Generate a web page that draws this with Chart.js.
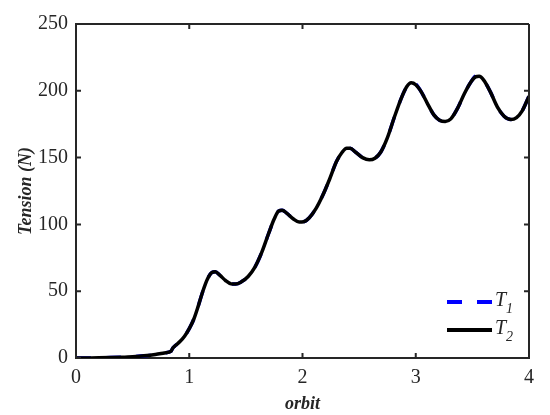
<!DOCTYPE html>
<html>
<head>
<meta charset="utf-8">
<script src="https://cdn.jsdelivr.net/npm/chart.js@4/dist/chart.umd.min.js"></script>
<style>
body { margin: 0; background: #fff; }
</style>
</head>
<body>
<canvas id="myChart" width="550" height="415"></canvas>
<script>
// orbit values and tension readings (N)
var orbit = [0, 0.1, 0.2, 0.3, 0.4, 0.5, 0.6, 0.7, 0.78, 0.84, 0.855, 0.88, 0.92, 0.96, 1.0, 1.04, 1.08, 1.12, 1.16, 1.2,
  1.23, 1.27, 1.32, 1.37, 1.41, 1.46, 1.52, 1.58, 1.64, 1.7, 1.75, 1.79, 1.82, 1.86, 1.92, 1.97, 2.01, 2.06, 2.12, 2.18,
  2.24, 2.3, 2.35, 2.39, 2.42, 2.47, 2.53, 2.59, 2.64, 2.69, 2.75, 2.81, 2.87, 2.92, 2.96, 3.0, 3.05, 3.1, 3.16, 3.21,
  3.26, 3.31, 3.37, 3.43, 3.49, 3.53, 3.56, 3.6, 3.66, 3.72, 3.78, 3.84, 3.89, 3.94, 4.0];
var t1 = [0, 0.05, 0.1, 0.3, 0.6, 1.0, 1.6, 2.6, 3.8, 5.2, 7.5, 9.5, 12.5, 16.5, 22, 29, 39, 50, 59, 64,
  64.5, 62, 58, 55.5, 55.3, 57, 61, 68, 79, 93, 104, 110, 110.5, 108.5, 104, 101.8, 102, 105, 112, 122,
  134, 147, 154, 157, 157, 154, 150, 148.3, 149.5, 154, 165, 180, 194, 203, 206.5, 205, 199, 191, 182, 178,
  177, 179, 187, 198, 207, 211, 211.3, 208, 199, 188, 181, 178.5, 180, 185, 196];
var t2 = [0, 0.05, 0.1, 0.3, 0.6, 1.0, 1.6, 2.6, 3.8, 5.2, 7.5, 9.5, 12.5, 16.5, 22, 29, 39, 50, 59, 64,
  64.5, 62, 58, 55.5, 55.3, 57, 61, 68, 79, 93, 104, 110, 110.5, 108.5, 104, 101.8, 102, 105, 112, 122,
  134, 147, 154, 157, 157, 154, 150, 148.3, 149.5, 154, 165, 180, 194, 203, 206, 204.5, 199, 191, 182, 178,
  177, 179, 187, 198, 207, 210.5, 210.8, 208, 199, 188, 181, 178.5, 180, 185, 196];
var xTicks = [0, 1, 2, 3, 4];
var yTicks = [0, 50, 100, 150, 200, 250];

var axisColor = '#262626';
var serif = "'Liberation Serif', 'Times New Roman', serif";

function pts(ys) {
  return orbit.map(function (x, i) { return {x: x, y: ys[i]}; });
}

// box around the plot with inward ticks on all four sides, like matlab
var boxTicks = {
  id: 'boxTicks',
  afterDraw: function (chart) {
    var ctx = chart.ctx, a = chart.chartArea;
    var sx = chart.scales.x, sy = chart.scales.y;
    ctx.save();
    ctx.strokeStyle = axisColor;
    ctx.lineWidth = 2;
    ctx.beginPath();
    ctx.moveTo(a.left, a.top); ctx.lineTo(a.right, a.top);
    ctx.moveTo(a.right, a.top); ctx.lineTo(a.right, a.bottom);
    xTicks.forEach(function (v) {
      var px = sx.getPixelForValue(v);
      ctx.moveTo(px, a.bottom); ctx.lineTo(px, a.bottom - 5);
      ctx.moveTo(px, a.top); ctx.lineTo(px, a.top + 5);
    });
    yTicks.forEach(function (v) {
      var py = sy.getPixelForValue(v);
      ctx.moveTo(a.left, py); ctx.lineTo(a.left + 5, py);
      ctx.moveTo(a.right, py); ctx.lineTo(a.right - 5, py);
    });
    ctx.stroke();
    ctx.restore();
  }
};

// legend in the lower right corner, with subscripts
var cornerLegend = {
  id: 'cornerLegend',
  afterDraw: function (chart) {
    var ctx = chart.ctx, a = chart.chartArea;
    var items = chart.data.datasets;
    var x0 = a.right - 82, x1 = a.right - 37;
    var rows = [a.bottom - 56, a.bottom - 28];
    ctx.save();
    items.forEach(function (ds, i) {
      var y = rows[i];
      ctx.beginPath();
      ctx.strokeStyle = ds.borderColor;
      ctx.lineWidth = 4;
      ctx.setLineDash(ds.borderDash || []);
      ctx.moveTo(x0, y); ctx.lineTo(x1, y);
      ctx.stroke();
      ctx.setLineDash([]);
      ctx.fillStyle = axisColor;
      ctx.textBaseline = 'alphabetic';
      ctx.textAlign = 'left';
      ctx.font = 'italic 20px ' + serif;
      ctx.fillText('T', x1 + 3, y + 4);
      ctx.font = 'italic 14px ' + serif;
      ctx.fillText(ds.sub, x1 + 14, y + 11);
    });
    ctx.restore();
  }
};

const config = {
  type: 'line',
  data: {
    datasets: [{
      label: 'T1',
      sub: '1',
      data: pts(t1),
      borderColor: '#0000ff',
      borderWidth: 3.5,
      borderDash: [15, 15],
      pointRadius: 0,
      order: 2,
      cubicInterpolationMode: 'monotone'
    }, {
      label: 'T2',
      sub: '2',
      data: pts(t2),
      borderColor: '#000000',
      borderWidth: 3.5,
      pointRadius: 0,
      order: 1,
      cubicInterpolationMode: 'monotone'
    }]
  },
  options: {
    responsive: false,
    animation: false,
    layout: {padding: {left: 0, top: 24, right: 21, bottom: 0}},
    plugins: {
      legend: {display: false},
      tooltip: {enabled: false}
    },
    scales: {
      x: {
        type: 'linear',
        min: 0, max: 4,
        afterFit: function (s) { s.height = 57; },
        afterBuildTicks: function (s) { s.ticks = xTicks.map(function (v) { return {value: v}; }); },
        grid: {drawOnChartArea: false, drawTicks: false},
        border: {color: axisColor, width: 2},
        ticks: {color: axisColor, padding: 8, font: {family: serif, size: 20}},
        title: {display: true, text: 'orbit', color: axisColor, padding: {top: 0, bottom: 0},
          font: {family: serif, size: 18, style: 'italic', weight: 'bold'}}
      },
      y: {
        min: 0, max: 250,
        afterFit: function (s) { s.width = 76; },
        afterBuildTicks: function (s) { s.ticks = yTicks.map(function (v) { return {value: v}; }); },
        grid: {drawOnChartArea: false, drawTicks: false},
        border: {color: axisColor, width: 2},
        ticks: {color: axisColor, padding: 8, font: {family: serif, size: 20}},
        title: {display: true, text: 'Tension (N)', color: axisColor, padding: {top: 16, bottom: 0},
          font: {family: serif, size: 18, style: 'italic', weight: 'bold'}}
      }
    }
  },
  plugins: [boxTicks, cornerLegend]
};

var myChart = new Chart(document.getElementById('myChart'), config);
</script>
</body>
</html>
